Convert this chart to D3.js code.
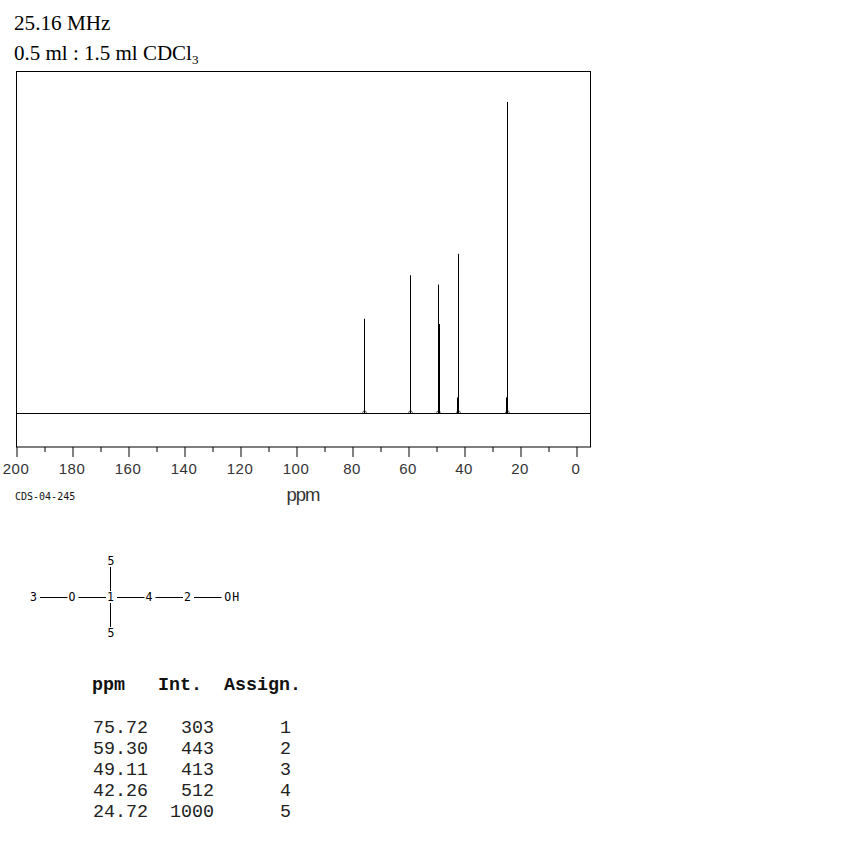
<!DOCTYPE html>
<html><head><meta charset="utf-8">
<script src="https://cdn.jsdelivr.net/npm/d3@7"></script>
<style>html,body{margin:0;padding:0;background:#fff}svg{display:block}</style>
</head><body><div id="c"></div>
<script>
const ppm = [75.72, 59.30, 49.11, 42.26, 24.72];
const intensity = [303, 443, 413, 512, 1000];
const assign = [1, 2, 3, 4, 5];
const ppmText = ["75.72", "59.30", "49.11", "42.26", "24.72"];
const shoulderPpm = [49.0, 42.4, 24.9];
const shoulderInt = [286, 50, 50];
const majorTicks = [200, 180, 160, 140, 120, 100, 80, 60, 40, 20, 0];
const minorTicks = [190, 170, 150, 130, 110, 90, 70, 50, 30, 10];
const atoms = ["3", "O", "1", "4", "2", "OH"];
const atomCols = [0, 1, 2, 3, 4, 5.15];
const bondCols = [[0, 1], [1, 2], [2, 3], [3, 4], [4, 5]];

const svg = d3.select("#c").append("svg").attr("width", 850).attr("height", 850);
const x = d3.scaleLinear().domain([200, -5]).range([16, 590]);
const y = d3.scaleLinear().domain([0, 1000]).range([413, 102]);
const frameTop = 71.5, frameBottom = 447;
const ink = "#000";

const serif = "'Liberation Serif', serif";
svg.append("text").attr("x", 14).attr("y", 30).attr("font-family", serif).attr("font-size", 21.2).text("25.16 MHz");
const t2 = svg.append("text").attr("x", 14).attr("y", 60).attr("font-family", serif).attr("font-size", 21);
t2.append("tspan").text("0.5 ml : 1.5 ml CDCl");
t2.append("tspan").attr("font-size", 13).attr("dy", 4).text("3");

svg.append("rect").attr("x", 16.5).attr("y", frameTop).attr("width", 574).attr("height", frameBottom - frameTop)
  .attr("fill", "none").attr("stroke", ink);
svg.append("line").attr("x1", 16).attr("x2", 590).attr("y1", y(0) + .5).attr("y2", y(0) + .5).attr("stroke", ink);

svg.selectAll(".peak").data(ppm).join("line").attr("class", "peak")
  .attr("x1", d => Math.round(x(d)) + .5).attr("x2", d => Math.round(x(d)) + .5)
  .attr("y1", y(0)).attr("y2", (d, i) => y(intensity[i])).attr("stroke", ink);
svg.selectAll(".shoulder").data(shoulderPpm).join("line").attr("class", "shoulder")
  .attr("x1", (d, i) => Math.round(x(ppm[i + 2])) + (i === 0 ? 1.5 : -.5))
  .attr("x2", (d, i) => Math.round(x(ppm[i + 2])) + (i === 0 ? 1.5 : -.5))
  .attr("y1", y(0)).attr("y2", (d, i) => y(shoulderInt[i])).attr("stroke", ink);
svg.selectAll(".foot").data(ppm).join("path").attr("class", "foot")
  .attr("d", d => { const p = Math.round(x(d)) + .5, b = y(0); return `M${p - 2},${b}L${p - 1},${b - 2}L${p + 1},${b - 2}L${p + 2},${b}`; })
  .attr("fill", "none").attr("stroke", ink).attr("stroke-width", .6);

const gMaj = svg.append("g").attr("transform", `translate(0.5,${frameBottom})`)
  .call(d3.axisBottom(x).tickValues(majorTicks).tickSize(10).tickPadding(6).tickFormat(d3.format("d")));
const gMin = svg.append("g").attr("transform", `translate(0.5,${frameBottom})`)
  .call(d3.axisBottom(x).tickValues(minorTicks).tickSize(5).tickFormat(""));
gMaj.select(".domain").remove(); gMin.select(".domain").remove();
gMaj.selectAll("line").attr("stroke", ink); gMin.selectAll("line").attr("stroke", ink);
gMaj.selectAll("text").attr("font-family", "'Liberation Sans', sans-serif").attr("font-size", 15).attr("letter-spacing", .5).attr("dx", -1).attr("fill", "#333");

svg.append("text").attr("x", 15).attr("y", 500).attr("font-family", "'DejaVu Sans Mono', monospace").attr("font-size", 10).attr("fill", "#111").text("CDS-04-245");
svg.append("text").attr("x", 303).attr("y", 501).attr("text-anchor", "middle").attr("font-family", "'Liberation Sans', sans-serif").attr("font-size", 18.5).attr("letter-spacing", -1).attr("fill", "#333").text("ppm");

const col = d3.scaleLinear().domain([0, 5]).range([34, 226.5]);
const row = d3.scaleLinear().domain([-1, 1]).range([561, 633]);
const mono = "'DejaVu Sans Mono', monospace";
svg.selectAll(".bond").data(bondCols).join("line").attr("class", "bond")
  .attr("x1", d => col(d[0]) + 6).attr("x2", d => col(d[1]) - 5)
  .attr("y1", row(0) + .5).attr("y2", row(0) + .5).attr("stroke", ink);
svg.selectAll(".vbond").data([-1, 1]).join("line").attr("class", "vbond")
  .attr("x1", 110.5).attr("x2", 110.5)
  .attr("y1", d => d < 0 ? row(-1) + 6 : row(0) + 6).attr("y2", d => d < 0 ? row(0) - 6 : row(1) - 6).attr("stroke", ink);
svg.selectAll(".atom").data(atoms).join("text").attr("class", "atom")
  .attr("x", (d, i) => col(atomCols[i])).attr("y", row(0) + 4)
  .attr("text-anchor", "middle").attr("font-family", mono).attr("font-size", 11.5).attr("letter-spacing", 1).text(d => d);
svg.selectAll(".atomv").data([-1, 1]).join("text").attr("class", "atomv")
  .attr("x", 111).attr("y", d => row(d) + 4).attr("text-anchor", "middle")
  .attr("font-family", mono).attr("font-size", 11.5).text("5");

const cour = "'Liberation Mono', monospace";
const head = svg.append("text").attr("y", 690).attr("font-family", cour).attr("font-size", 18.33).attr("font-weight", "bold").attr("fill", "#111");
head.append("tspan").attr("x", 92).text("ppm");
head.append("tspan").attr("x", 158).text("Int.");
head.append("tspan").attr("x", 224).text("Assign.");
const rowY = d3.scaleLinear().domain([0, 4]).range([733, 817]);
ppmText.forEach((s, i) => {
  const t = svg.append("text").attr("y", rowY(i)).attr("font-family", cour).attr("font-size", 18.33).attr("fill", "#222");
  t.append("tspan").attr("x", 93).text(s);
  t.append("tspan").attr("x", 214).attr("text-anchor", "end").text(intensity[i]);
  t.append("tspan").attr("x", 280).text(assign[i]);
});
</script></body></html>
